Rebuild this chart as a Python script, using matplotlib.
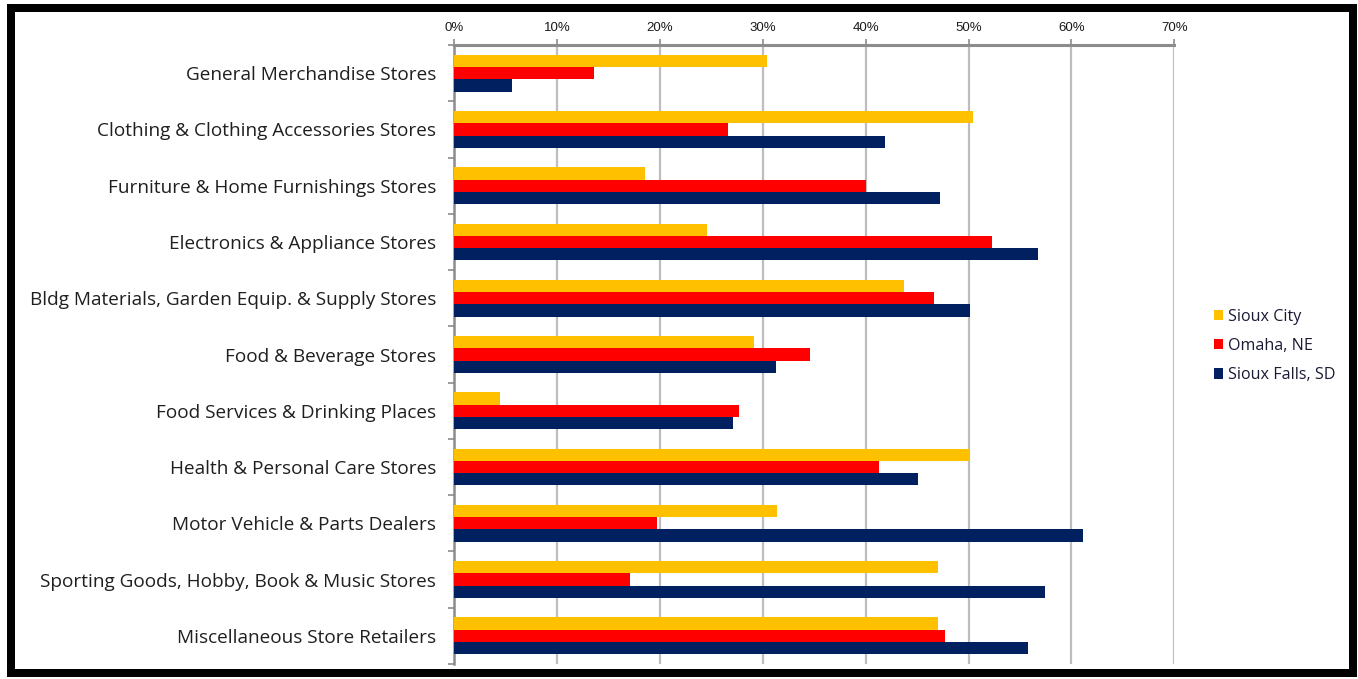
import matplotlib
matplotlib.use("Agg")
import matplotlib.pyplot as plt
import numpy as np
from matplotlib.patches import Rectangle, Patch
from matplotlib.ticker import MultipleLocator, FuncFormatter

categories = [
    "General Merchandise Stores",
    "Clothing & Clothing Accessories Stores",
    "Furniture & Home Furnishings Stores",
    "Electronics & Appliance Stores",
    "Bldg Materials, Garden Equip. & Supply Stores",
    "Food & Beverage Stores",
    "Food Services & Drinking Places",
    "Health & Personal Care Stores",
    "Motor Vehicle & Parts Dealers",
    "Sporting Goods, Hobby, Book & Music Stores",
    "Miscellaneous Store Retailers",
]

sioux_city = [30.4, 50.4, 18.5, 24.6, 43.7, 29.1, 4.4, 50.1, 31.4, 47.0, 47.0]
omaha_ne = [13.6, 26.6, 40.0, 52.3, 46.6, 34.6, 27.7, 41.3, 19.7, 17.1, 47.7]
sioux_falls_sd = [5.6, 41.9, 47.2, 56.7, 50.1, 31.3, 27.1, 45.1, 61.1, 57.4, 55.8]

series_names = ["Sioux City", "Omaha, NE", "Sioux Falls, SD"]
series_colors = ["#FFC000", "#FF0000", "#002060"]

W, H, DPI = 1358, 679, 100
fig = plt.figure(figsize=(W / DPI, H / DPI), dpi=DPI)
fig.patch.set_facecolor("white")

ax = fig.add_axes([454.3 / W, 1 - 664 / H, 720 / W, (664 - 45) / H])

y = np.arange(len(categories))
bar_h = 0.218
offsets = [-bar_h, 0.0, bar_h]
for vals, off, col in zip([sioux_city, omaha_ne, sioux_falls_sd], offsets, series_colors):
    ax.barh(y + off, vals, height=bar_h, color=col, edgecolor="none", zorder=3)

ax.set_xlim(0, 70)
ax.set_ylim(len(categories) - 0.5, -0.5)

# x axis on top with percentage labels
ax.xaxis.set_major_locator(MultipleLocator(10))
ax.xaxis.set_major_formatter(FuncFormatter(lambda v, p: f"{v:.0f}%"))
ax.xaxis.tick_top()
ax.tick_params(axis="x", which="major", top=True, bottom=False, length=4,
               width=1.2, color="#8c8c8c", pad=4, labelsize=9.5,
               labelcolor="#1a1a1a")
for lbl in ax.get_xticklabels():
    lbl.set_fontfamily("Liberation Sans")

ax.grid(axis="x", color="#bdbdbd", linewidth=1.6, zorder=0)
ax.set_axisbelow(True)

# category labels and boundary ticks
ax.set_yticks(y)
ax.set_yticklabels(categories, fontsize=13.7, fontfamily="Open Sans", color="#1f1f1f")
ax.tick_params(axis="y", which="major", length=0, pad=13)
ax.set_yticks(np.arange(-0.5, len(categories) + 0.5, 1.0), minor=True)
ax.tick_params(axis="y", which="minor", length=4, width=1.2, color="#8c8c8c")

for side in ["right", "bottom"]:
    ax.spines[side].set_visible(False)
ax.spines["top"].set_color("#8c8c8c")
ax.spines["top"].set_linewidth(2.2)
ax.spines["left"].set_color("#8c8c8c")
ax.spines["left"].set_linewidth(1.8)

handles = [Patch(facecolor=c, edgecolor="none") for c in series_colors]
fig.legend(handles, series_names, loc="center left",
           bbox_to_anchor=(1199 / W, 1 - 346 / H), frameon=False,
           prop={"family": "Open Sans", "size": 11.6},
           handlelength=0.6, handleheight=0.6, handletextpad=0.3,
           labelspacing=0.82, labelcolor="#1a1a33")

# black frame around the figure
fig.patches.append(Rectangle((11 / W, 1 - 673 / H), (1353 - 11) / W, (673 - 8) / H,
                             transform=fig.transFigure, fill=False,
                             edgecolor="black", linewidth=8 * 72 / DPI,
                             zorder=10))

fig.savefig("out.png", dpi=DPI, facecolor="white")
